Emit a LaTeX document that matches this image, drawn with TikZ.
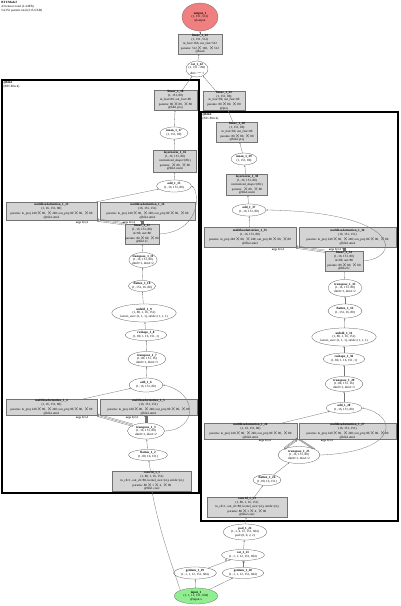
\documentclass[tikz,border=0pt]{standalone}
\usepackage{fontspec}
\setmainfont{Liberation Serif}
\usetikzlibrary{shapes.geometric, arrows.meta, positioning}

\begin{document}
\begin{tikzpicture}[x=1pt, y=-1pt,
    every node/.style={font=\fontsize{3.2}{3.7}\selectfont, align=center, inner sep=0.3pt},
    layerbox/.style={rectangle, draw=black!55, fill=black!17, line width=0.25pt},
    opnode/.style={ellipse, draw=black!70, fill=white, line width=0.25pt, inner sep=-0.8pt},
    edge/.style={draw=black!55, line width=0.3pt, -{Stealth[length=1.6pt, width=1.3pt]}},
    cluster/.style={draw=black, line width=1.1pt},
    elabel/.style={font=\fontsize{3.0}{3.4}\selectfont\bfseries, text=black!85}]

    % Định nghĩa màu sắc
    \definecolor{outred}{RGB}{240, 128, 128}
    \definecolor{ingreen}{RGB}{144, 238, 144}

    \useasboundingbox (0,0) rectangle (400,606);

    % Tiêu đề mô hình
    \node[anchor=north west, align=left] (title) at (1,1) {\textbf{BTCModel}\\43 tensors total (2.4 MB)\\54,352 params total (215.6 KB)};

    % 1. Hai khối (cluster)
    \draw[cluster] (2,80) rectangle (199,493);
    \node[anchor=north west, align=left] (lbl_blk1) at (3,81) {\textbf{@blk1}\\(BTCBlock)};
    \draw[cluster] (201,112) rectangle (398,521);
    \node[anchor=north west, align=left] (lbl_blk2) at (202,113) {\textbf{@blk2}\\(BTCBlock)};

    % 2. Đầu ra và phần chung phía trên
    \node[opnode, fill=outred, draw=black!60, minimum width=36, minimum height=28] (out1) at (200,17) {\textbf{output\_1}\\(1, 151, 512)\\@output};
    \node[layerbox, minimum width=44, minimum height=20] (lin43) at (200,44) {\textbf{linear\_1\_43}\\(1, 151, 512)\\in\_feat=160, out\_feat=512\\params: 512$\times$160, $\times$512\\@head};
    \node[opnode, minimum width=22, minimum height=16] (cat42) at (197,69) {\textbf{cat\_1\_42}\\(1, 151, 160)\\dim=$-$1};
    \node[layerbox, minimum width=43, minimum height=20] (lin18) at (175.5,100) {\textbf{linear\_1\_18}\\(1, 151, 80)\\in\_feat=80, out\_feat=80\\params: 80$\times$80, $\times$80\\@blk1.proj};
    \node[layerbox, minimum width=42, minimum height=19] (lin41) at (224,100.5) {\textbf{linear\_1\_41}\\(1, 151, 80)\\in\_feat=80, out\_feat=80\\params: 80$\times$80, $\times$80\\@proj};

    % 3. Khối bên trái (blk1)
    \node[opnode, minimum width=28, minimum height=12] (mean17) at (174,133) {\textbf{mean\_1\_17}\\(1, 151, 80)};
    \node[layerbox, minimum width=43, minimum height=22] (ln16) at (175,161) {\textbf{layernorm\_1\_16}\\(1, 16, 151, 80)\\normalized\_shape=(80,)\\params: $\times$80, $\times$80\\@blk1.norm};
    \node[opnode, minimum width=35, minimum height=12] (add15) at (174,186) {\textbf{add\_1\_15}\\(1, 16, 151, 80)};
    \node[layerbox, minimum width=91, minimum height=18] (mha13) at (51.5,211) {\textbf{multiheadattention\_1\_13}\\(1, 16, 151, 80)\\params: in\_proj 240$\times$80, $\times$240; out\_proj 80$\times$80, $\times$80\\@blk1.attn2};
    \node[layerbox, minimum width=95, minimum height=18] (mha14) at (147.5,211) {\textbf{multiheadattention\_1\_14}\\(16, 151, 151)\\params: in\_proj 240$\times$80, $\times$240; out\_proj 80$\times$80, $\times$80\\@blk1.attn2};
    \node[layerbox, minimum width=32, minimum height=20] (lin12) at (142,234) {\textbf{linear\_1\_12}\\(1, 16, 151, 80)\\in=80, out=80\\params: 80$\times$80, $\times$80\\@blk1.fc};
    \node[opnode, minimum width=28, minimum height=15] (tr11) at (143,260) {\textbf{transpose\_1\_11}\\(1, 16, 151, 80)\\dim0=1, dim1=2};
    \node[opnode, minimum width=27, minimum height=11] (fl10) at (142,286) {\textbf{flatten\_1\_10}\\(1, 151, 16, 80)};
    \node[opnode, minimum width=58, minimum height=18] (unf9) at (144,313) {\textbf{unfold\_1\_9}\\(1, 80, 1, 16, 151)\\kernel\_size=(1, 1, 1), stride=(1, 1, 1)};
    \node[opnode, minimum width=42, minimum height=11] (rs8) at (146,335) {\textbf{reshape\_1\_8}\\(1, 80, 1, 16, 151, 1)};
    \node[opnode, minimum width=38, minimum height=15] (tr7) at (147,359) {\textbf{transpose\_1\_7}\\(1, 80, 151, 16)\\dim0=1, dim1=3};
    \node[opnode, minimum width=34, minimum height=14] (add6) at (146,385) {\textbf{add\_1\_6}\\(1, 16, 151, 80)};
    \node[layerbox, minimum width=91, minimum height=16] (mha4) at (51.5,407) {\textbf{multiheadattention\_1\_4}\\(1, 16, 151, 80)\\params: in\_proj 240$\times$80, $\times$240; out\_proj 80$\times$80, $\times$80\\@blk1.attn1};
    \node[layerbox, minimum width=97, minimum height=16] (mha5) at (148.5,407) {\textbf{multiheadattention\_1\_5}\\(16, 151, 151)\\params: in\_proj 240$\times$80, $\times$240; out\_proj 80$\times$80, $\times$80\\@blk1.attn1};
    \node[opnode, minimum width=37, minimum height=16] (tr3) at (146,431) {\textbf{transpose\_1\_3}\\(1, 16, 151, 80)\\dim0=1, dim1=2};
    \node[opnode, minimum width=39, minimum height=11] (fl2) at (148,455) {\textbf{flatten\_1\_2}\\(1, 80, 16, 151)};
    \node[layerbox, minimum width=79, minimum height=18] (conv1) at (152,481) {\textbf{conv1d\_1\_1}\\(1, 80, 1, 16, 151)\\in\_ch=1, out\_ch=80, kernel\_size=(4,), stride=(4,)\\params: 80$\times$1$\times$4, $\times$80\\@blk1.conv};

    % 4. Khối bên phải (blk2)
    \node[layerbox, minimum width=41, minimum height=20] (lin40) at (237,132) {\textbf{linear\_1\_40}\\(1, 151, 80)\\in\_feat=80, out\_feat=80\\params: 80$\times$80, $\times$80\\@blk2.proj};
    \node[opnode, minimum width=26, minimum height=12] (mean39) at (244,159) {\textbf{mean\_1\_39}\\(1, 151, 80)};
    \node[layerbox, minimum width=41, minimum height=21] (ln38) at (247,185) {\textbf{layernorm\_1\_38}\\(1, 16, 151, 80)\\normalized\_shape=(80,)\\params: $\times$80, $\times$80\\@blk2.norm};
    \node[opnode, minimum width=34, minimum height=12] (add37) at (249,210) {\textbf{add\_1\_37}\\(1, 16, 151, 80)};
    \node[layerbox, minimum width=92, minimum height=20] (mha35) at (250,237) {\textbf{multiheadattention\_1\_35}\\(1, 16, 151, 80)\\params: in\_proj 240$\times$80, $\times$240; out\_proj 80$\times$80, $\times$80\\@blk2.attn2};
    \node[layerbox, minimum width=97, minimum height=20] (mha36) at (347.5,237) {\textbf{multiheadattention\_1\_36}\\(16, 151, 151)\\params: in\_proj 240$\times$80, $\times$240; out\_proj 80$\times$80, $\times$80\\@blk2.attn2};
    \node[layerbox, minimum width=38, minimum height=18] (lin34) at (344,261) {\textbf{linear\_1\_34}\\(1, 16, 151, 80)\\in=80, out=80\\params: 80$\times$80, $\times$80\\@blk2.fc};
    \node[opnode, minimum width=34, minimum height=17] (tr33) at (345,288) {\textbf{transpose\_1\_33}\\(1, 16, 151, 80)\\dim0=1, dim1=2};
    \node[opnode, minimum width=34, minimum height=14] (fl32) at (345,311) {\textbf{flatten\_1\_32}\\(1, 151, 16, 80)};
    \node[opnode, minimum width=59, minimum height=18] (unf31) at (344,337) {\textbf{unfold\_1\_31}\\(1, 80, 1, 16, 151)\\kernel\_size=(1, 1, 1), stride=(1, 1, 1)};
    \node[opnode, minimum width=42, minimum height=12] (rs30) at (344,359) {\textbf{reshape\_1\_30}\\(1, 80, 1, 16, 151, 1)};
    \node[opnode, minimum width=38, minimum height=15] (tr29) at (344,384) {\textbf{transpose\_1\_29}\\(1, 80, 151, 16)\\dim0=1, dim1=3};
    \node[opnode, minimum width=36, minimum height=11] (add28) at (344,408) {\textbf{add\_1\_28}\\(1, 16, 151, 80)};
    \node[layerbox, minimum width=93, minimum height=16] (mha26) at (250.5,431) {\textbf{multiheadattention\_1\_26}\\(1, 16, 151, 80)\\params: in\_proj 240$\times$80, $\times$240; out\_proj 80$\times$80, $\times$80\\@blk2.attn1};
    \node[layerbox, minimum width=97, minimum height=16] (mha27) at (347.5,431) {\textbf{multiheadattention\_1\_27}\\(16, 151, 151)\\params: in\_proj 240$\times$80, $\times$240; out\_proj 80$\times$80, $\times$80\\@blk2.attn1};
    \node[opnode, minimum width=42, minimum height=17] (tr25) at (299,455) {\textbf{transpose\_1\_25}\\(1, 16, 151, 80)\\dim0=1, dim1=2};
    \node[opnode, minimum width=28, minimum height=11] (fl24) at (267,480) {\textbf{flatten\_1\_24}\\(1, 80, 16, 151)};
    \node[layerbox, minimum width=80, minimum height=20] (conv23) at (247,507) {\textbf{conv1d\_1\_23}\\(1, 80, 1, 16, 151)\\in\_ch=1, out\_ch=80, kernel\_size=(4,), stride=(4,)\\params: 80$\times$1$\times$4, $\times$80\\@blk2.conv};

    % 5. Đầu vào và phần chung phía dưới
    \node[opnode, minimum width=44, minimum height=16] (pad22) at (245,532) {\textbf{pad\_1\_22}\\(1, 1, 4, 12, 151, 604)\\pad=(0, 0, 2, 2)};
    \node[opnode, minimum width=43, minimum height=11] (cat21) at (243,555) {\textbf{cat\_1\_21}\\(1, 1, 1, 12, 151, 604)};
    \node[opnode, minimum width=43, minimum height=12] (gi19) at (195,573) {\textbf{getitem\_1\_19}\\(1, 1, 1, 12, 151, 604)};
    \node[opnode, minimum width=42, minimum height=11] (gi20) at (243,573) {\textbf{getitem\_1\_20}\\(1, 1, 1, 12, 151, 604)};
    \node[opnode, fill=ingreen, draw=black!60, minimum width=44, minimum height=16] (in1) at (196,596) {\textbf{input\_1}\\(1, 1, 12, 151, 604)\\@input.x};

    % 6. Các cạnh
    \draw[edge] (in1) -- (gi19);
    \draw[edge] (in1) -- (gi20);
    \draw[edge] (in1.north west) .. controls (170,560) and (158,525) .. (conv1.south);
    \draw[edge] (gi19) -- (cat21) node[elabel, pos=0.85, left] {0};
    \draw[edge] (gi20) -- (cat21) node[elabel, pos=0.7, right] {1};
    \draw[edge] (cat21) -- (pad22);
    \draw[edge] (pad22) -- (conv23);
    \draw[edge] (conv23) -- (fl24);
    \draw[edge] (fl24) -- (tr25);
    \foreach \d in {-1.2, 0, 1.2} {
        \draw[edge] ([yshift=\d pt]tr25.north west) -- ([yshift=\d pt]mha26.south east);
        \draw[edge] ([xshift=\d pt]tr25.north east) -- ([xshift=\d pt]mha27.south west);
    }
    \node[elabel] (lbl_e26) at (265,441) {args 0,1,2};
    \node[elabel] (lbl_e27) at (327,441) {args 0,1,2};
    \draw[edge] (tr25.east) .. controls (400,452) and (398,415) .. (add28.east);
    \draw[edge] ([xshift=32pt]mha26.north) -- (add28);
    \draw[edge] (add28) -- (tr29);
    \draw[edge] (tr29) -- (rs30);
    \draw[edge] (rs30) -- (unf31);
    \draw[edge] (unf31) -- (fl32);
    \draw[edge] (fl32) -- (tr33);
    \draw[edge] (tr33) -- (lin34);
    \foreach \d in {-1.2, 0, 1.2} {
        \draw[edge] ([yshift=\d pt]lin34.north west) -- ([yshift=\d pt]mha35.south east);
        \draw[edge] ([xshift=\d pt]lin34.north) -- ([xshift=\d pt]lin34.north |- mha36.south);
    }
    \node[elabel] (lbl_e35) at (278,250) {args 0,1,2};
    \node[elabel] (lbl_e36) at (335,250) {args 0,1,2};
    \draw[edge] (lin34.east) .. controls (402,258) and (402,212) .. (add37.east);
    \draw[edge] (mha35) -- (add37);
    \draw[edge] (add37) -- (ln38);
    \draw[edge] (ln38) -- (mean39);
    \draw[edge] (mean39) -- (lin40);
    \draw[edge] (lin40) -- (lin41);
    \draw[edge] (lin41) -- (cat42);

    \draw[edge] (conv1) -- (fl2);
    \draw[edge] (fl2) -- (tr3);
    \foreach \d in {-1.2, 0, 1.2} {
        \draw[edge] ([yshift=\d pt]tr3.north west) -- ([yshift=\d pt]mha4.south east);
        \draw[edge] ([xshift=\d pt]tr3.north) -- ([xshift=\d pt]tr3.north |- mha5.south);
    }
    \node[elabel] (lbl_e4) at (82,418) {args 0,1,2};
    \node[elabel] (lbl_e5) at (132,418) {args 0,1,2};
    \draw[edge] (tr3.east) .. controls (198,430) and (198,392) .. (add6.east);
    \draw[edge] ([xshift=32pt]mha4.north) -- (add6);
    \draw[edge] (add6) -- (tr7);
    \draw[edge] (tr7) -- (rs8);
    \draw[edge] (rs8) -- (unf9);
    \draw[edge] (unf9) -- (fl10);
    \draw[edge] (fl10) -- (tr11);
    \draw[edge] (tr11) -- (lin12);
    \foreach \d in {-1.2, 0, 1.2} {
        \draw[edge] ([yshift=\d pt]lin12.north west) -- ([yshift=\d pt]mha13.south east);
        \draw[edge] ([xshift=\d pt]lin12.north) -- ([xshift=\d pt]lin12.north |- mha14.south);
    }
    \node[elabel] (lbl_e13) at (82,223) {args 0,1,2};
    \node[elabel] (lbl_e14) at (129,223) {args 0,1,2};
    \draw[edge] (lin12.east) .. controls (201,232) and (200,192) .. (add15.east);
    \draw[edge] (mha13) -- (add15);
    \draw[edge] (add15) -- (ln16);
    \draw[edge] (ln16) -- (mean17);
    \draw[edge] (mean17) -- (lin18);
    \draw[edge] (lin18) -- (cat42);

    \draw[edge] (cat42) -- (lin43);
    \draw[edge] (lin43) -- (out1);

\end{tikzpicture}
\end{document}
